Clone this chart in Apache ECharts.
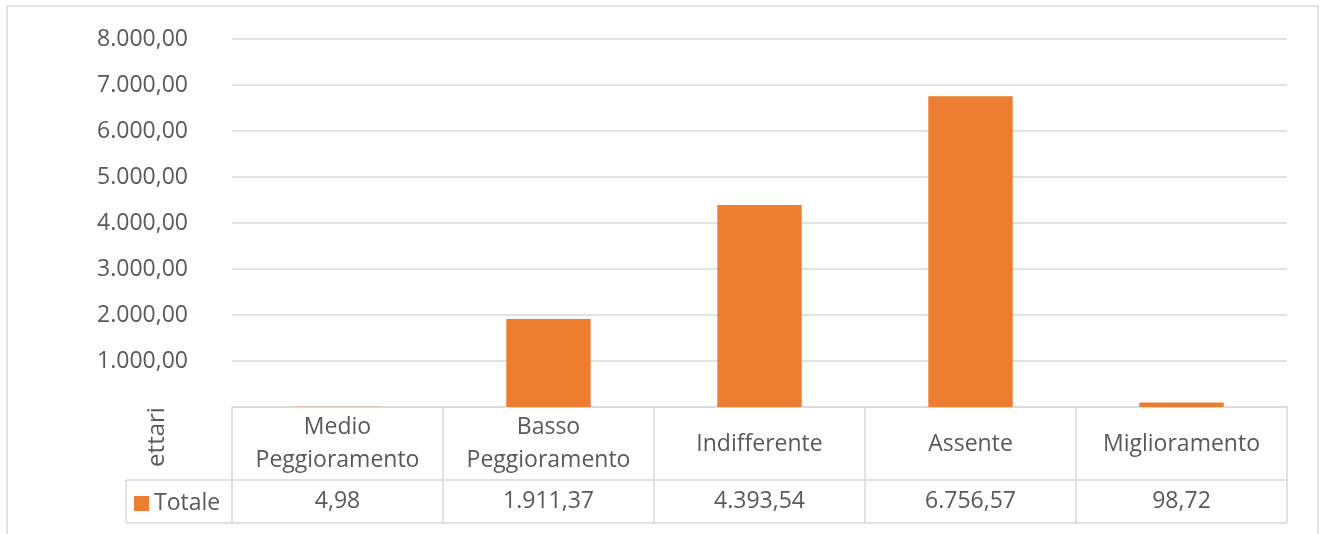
<!DOCTYPE html>
<html>
<head>
<meta charset="utf-8">
<script src="https://cdn.jsdelivr.net/npm/echarts@6/dist/echarts.min.js"></script>
<style>
  html, body { margin: 0; padding: 0; background: #fff; }
  #chart { width: 1320px; height: 534px; }
</style>
</head>
<body>
<div id="chart"></div>
<script>
// dati
var categories = ['Medio\nPeggioramento', 'Basso\nPeggioramento', 'Indifferente', 'Assente', 'Miglioramento'];
var totale = [4.98, 1911.37, 4393.54, 6756.57, 98.72];
var seriesName = 'Totale';
var axisName = 'ettari';
var yMin = 0, yMax = 8000, yStep = 1000;

// formato italiano 1.234,56
function fmt(v) {
  var p = v.toFixed(2).split('.');
  return p[0].replace(/\B(?=(\d{3})+(?!\d))/g, '.') + ',' + p[1];
}

var txt = '#595959', line = '#D9D9D9', font = 'Open Sans', fs = 23;
var gLeft = 232, gRight = 1287, gTop = 39, gBottom = 407;
var rowMid = 480, rowEnd = 523, legLeft = 126;

var chart = echarts.init(document.getElementById('chart'));
chart.setOption({
  animation: false,
  textStyle: { fontFamily: font },
  grid: { left: gLeft, right: 1320 - gRight, top: gTop, bottom: 534 - gBottom },
  legend: {
    data: [seriesName],
    left: 134, top: 492, padding: 0,
    icon: 'rect', itemWidth: 15, itemHeight: 15, itemGap: 0,
    textStyle: { color: txt, fontSize: fs, fontFamily: font }
  },
  xAxis: [{
    type: 'category',
    data: categories,
    position: 'bottom',
    axisLine: { lineStyle: { color: line, width: 1.5 } },
    axisTick: { show: true, length: rowEnd - gBottom, interval: 0, lineStyle: { color: line, width: 1.5 } },
    axisLabel: { interval: 0, margin: 37, verticalAlign: 'middle', color: txt, fontSize: fs, lineHeight: 33, fontFamily: font }
  }, {
    type: 'category',
    data: totale.map(fmt),
    position: 'bottom',
    axisLine: { show: false },
    axisTick: { show: false },
    axisLabel: { interval: 0, margin: 94, verticalAlign: 'middle', color: txt, fontSize: fs, fontFamily: font }
  }],
  yAxis: {
    type: 'value',
    min: yMin, max: yMax, interval: yStep,
    axisLine: { show: false },
    axisTick: { show: false },
    splitLine: { lineStyle: { color: line, width: 1.5 } },
    axisLabel: {
      margin: 44, color: txt, fontSize: fs, fontFamily: font,
      formatter: function (v) { return v === 0 ? '' : fmt(v); }
    }
  },
  series: [{
    name: seriesName,
    type: 'bar',
    data: totale,
    barWidth: '40%',
    itemStyle: { color: '#ED7D31' }
  }],
  graphic: [
    { type: 'rect', shape: { x: 7, y: 6, width: 1311, height: 600 }, style: { fill: 'none', stroke: line, lineWidth: 1.5 }, silent: true },
    { type: 'line', shape: { x1: legLeft, y1: rowMid, x2: gRight, y2: rowMid }, style: { stroke: line, lineWidth: 1.5 } },
    { type: 'line', shape: { x1: legLeft, y1: rowEnd, x2: gRight, y2: rowEnd }, style: { stroke: line, lineWidth: 1.5 } },
    { type: 'line', shape: { x1: legLeft, y1: rowMid, x2: legLeft, y2: rowEnd }, style: { stroke: line, lineWidth: 1.5 } },
    { type: 'text', x: 157, y: 437, rotation: Math.PI / 2, z: 0,
      style: { text: axisName, fill: txt, fontSize: 24, fontFamily: font, align: 'center', verticalAlign: 'middle' } }
  ]
});
</script>
</body>
</html>
